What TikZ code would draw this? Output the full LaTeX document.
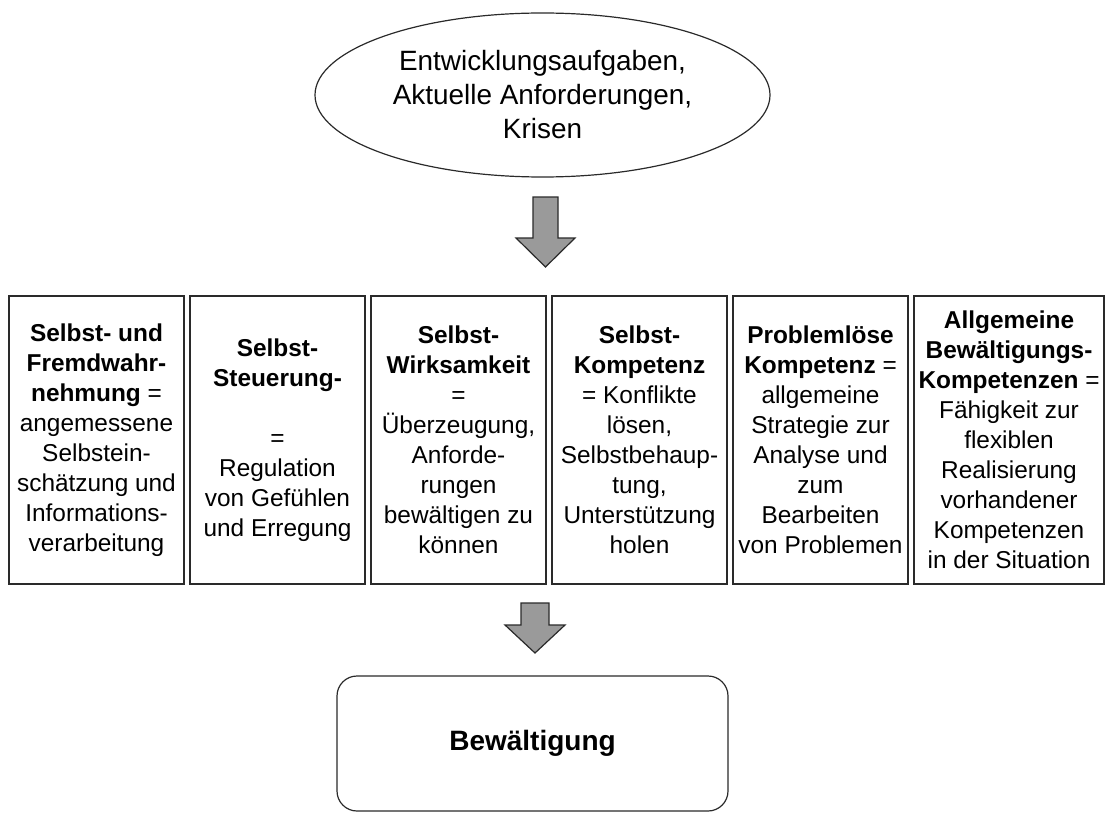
\documentclass[tikz,border=0pt]{standalone}
\usepackage{fontspec}
\setmainfont{Liberation Sans}
\usetikzlibrary{shapes.geometric}
\definecolor{arrowgray}{HTML}{9A9A9A}
\definecolor{linegray}{HTML}{2A2A2A}
\begin{document}
\begin{tikzpicture}[x=1pt,y=-1pt,
  boxstyle/.style={draw=linegray, line width=1.4pt, inner sep=0pt, align=center,
    minimum width=175pt, minimum height=288pt, font=\fontsize{24.4}{30}\selectfont},
  topstyle/.style={draw=linegray, ellipse, line width=1.2pt, inner sep=0pt, align=center,
    minimum width=455pt, minimum height=164pt, font=\fontsize{27.9}{34}\selectfont},
  endstyle/.style={draw=linegray, rounded corners=20pt, line width=1.2pt, inner sep=0pt,
    minimum width=391pt, minimum height=135pt, font=\fontsize{28}{32}\selectfont\bfseries},
  blockarrow/.style={draw=linegray, fill=arrowgray, line width=1.2pt, line join=miter}
]
\useasboundingbox (0,0) rectangle (1110,813);

\node[topstyle] (top) at (542.5,95) {Entwicklungsaufgaben,\\Aktuelle Anforderungen,\\Krisen};

\node[boxstyle] (b1) at (96.5,440) {\textbf{Selbst- und}\\\textbf{Fremdwahr-}\\\textbf{nehmung} =\\angemessene\\Selbstein-\\schätzung und\\Informations-\\verarbeitung};
\node[boxstyle] (b2) at (277.5,440) {\textbf{Selbst-}\\\textbf{Steuerung-}\\\mbox{}\\=\\Regulation\\von Gefühlen\\und Erregung};
\node[boxstyle] (b3) at (458.5,440) {\textbf{Selbst-}\\\textbf{Wirksamkeit}\\=\\Überzeugung,\\Anforde-\\rungen\\bewältigen zu\\können};
\node[boxstyle] (b4) at (639.5,440) {\textbf{Selbst-}\\\textbf{Kompetenz}\\= Konflikte\\lösen,\\Selbstbehaup-\\tung,\\Unterstützung\\holen};
\node[boxstyle] (b5) at (820.5,440) {\textbf{Problemlöse}\\\textbf{Kompetenz} =\\allgemeine\\Strategie zur\\Analyse und\\zum\\Bearbeiten\\von Problemen};
\node[boxstyle, minimum width=190pt] (b6) at (1009,440) {\textbf{Allgemeine}\\\textbf{Bewältigungs-}\\\textbf{Kompetenzen} =\\Fähigkeit zur\\flexiblen\\Realisierung\\vorhandener\\Kompetenzen\\in der Situation};

\node[endstyle] (end) at (532.5,743.5) {Bewältigung};

% block arrows
\draw[blockarrow] (533,197) -- (558,197) -- (558,238) -- (575,238) -- (545.5,267)
  -- (516,238) -- (533,238) -- cycle;
\draw[blockarrow] (521,603) -- (549,603) -- (549,625) -- (565,625) -- (535,653)
  -- (505,625) -- (521,625) -- cycle;
\end{tikzpicture}
\end{document}
